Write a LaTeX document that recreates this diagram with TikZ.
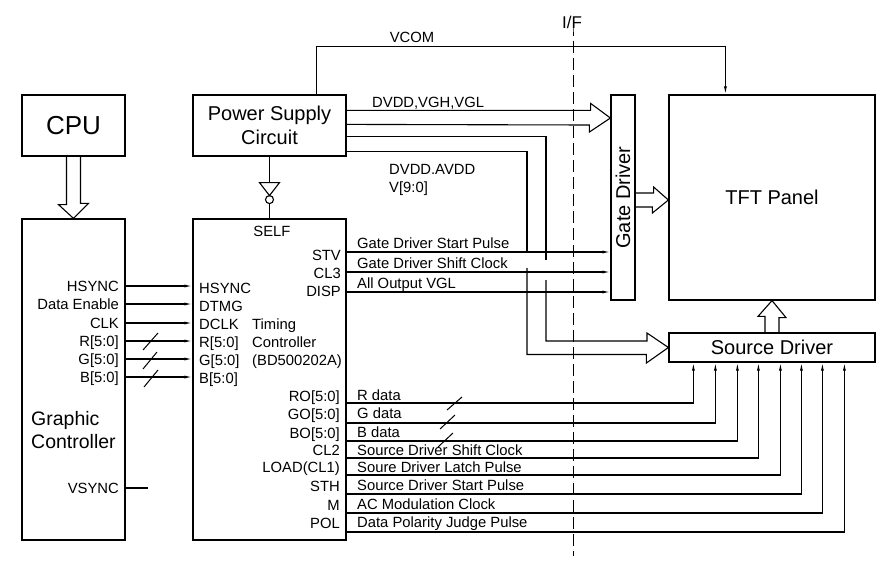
\documentclass[tikz,border=0pt]{standalone}
\usepackage{fontspec}
\setmainfont{Liberation Sans}
\usetikzlibrary{arrows.meta, positioning, calc}

\tikzset{
  blk/.style={draw, line width=1.2pt, inner sep=0pt},
  lbl/.style={inner sep=0pt, text height=10.6pt, text depth=0pt, font=\fontsize{14.8}{17}\selectfont},
  sig/.style={line width=1.1pt, -{Latex[length=8pt,width=3pt]}},
  wire/.style={line width=1.1pt},
  hollow/.style={line width=1.1pt, line join=miter},
  slash/.style={line width=1pt},
  ifline/.style={line width=0.8pt, dash pattern=on 12pt off 5pt},
}

\begin{document}
\begin{tikzpicture}[x=1pt, y=-1pt]
\useasboundingbox (0,0) rectangle (886,562);

% blocks
\node[blk, minimum width=103pt, minimum height=61pt, font=\fontsize{26}{30}\selectfont] (cpu) at (73.5,125.5) {CPU};
\node[blk, minimum width=103pt, minimum height=321pt] (gc) at (73.5,379.5) {};
\node[blk, minimum width=153pt, minimum height=61pt, align=center, font=\fontsize{20}{24}\selectfont] (psc) at (269.5,125.5) {Power Supply\\Circuit};
\node[blk, minimum width=153pt, minimum height=321pt] (tc) at (269.5,379.5) {};
\node[blk, minimum width=24pt, minimum height=205pt] (gd) at (623,197.5) {};
\node[rotate=90, inner sep=0pt, font=\fontsize{20}{24}\selectfont] (gdname) at (gd.center) {Gate Driver};
\node[blk, minimum width=206pt, minimum height=205pt, font=\fontsize{20}{24}\selectfont] (tft) at (772,197.5) {TFT Panel};
\node[blk, minimum width=206pt, minimum height=29pt, font=\fontsize{20}{24}\selectfont] (sd) at (772,347.5) {Source Driver};

% block names
\node[lbl, anchor=west, text height=14pt, font=\fontsize{19.5}{23}\selectfont] (gcname1) at (31,418) {Graphic};
\node[lbl, anchor=west, text height=14pt, font=\fontsize{19.5}{23}\selectfont] (gcname2) at (31,441) {Controller};
\node[lbl, anchor=west] (tcname1) at (252,324) {Timing};
\node[lbl, anchor=west] (tcname2) at (252,342) {Controller};
\node[lbl, anchor=west] (tcname3) at (252,360) {(BD500202A)};
\node[lbl] (self) at ($(tc.north)+(2.5,13)$) {SELF};

% I/F boundary
\node[lbl, text height=12pt, font=\fontsize{17}{20}\selectfont] (ifl) at (572,22) {I/F};
\draw[ifline] ($(ifl.south)+(1,4)$) -- (ifl.south -| 573,0) -- (573,556);

% CPU -> graphic controller
\draw[hollow] ($(cpu.south)+(-7,0)$) -- ++(0,48) -- ++(-8,0) -- (gc.north) -- ++(15,-15) -- ++(-8,0) -- ++(0,-48);

% graphic controller pins
\node[lbl, anchor=east] (ohsync) at (119,286) {HSYNC};
\node[lbl, anchor=east] (ode) at (119,304) {Data Enable};
\node[lbl, anchor=east] (oclk) at (119,323) {CLK};
\node[lbl, anchor=east] (or) at (119,341) {R[5:0]};
\node[lbl, anchor=east] (og) at (119,359) {G[5:0]};
\node[lbl, anchor=east] (ob) at (119,377) {B[5:0]};
\node[lbl, anchor=east] (ovsync) at (119,488) {VSYNC};
\draw[wire] (gc.east |- ovsync) -- ++(22,0);

% timing controller inputs
\node[lbl, anchor=west] (ihsync) at (199,288) {HSYNC};
\node[lbl, anchor=west] (idtmg) at (199,306) {DTMG};
\node[lbl, anchor=west] (idclk) at (199,324) {DCLK};
\node[lbl, anchor=west] (ir) at (199,342) {R[5:0]};
\node[lbl, anchor=west] (ig) at (199,360) {G[5:0]};
\node[lbl, anchor=west] (ib) at (199,378) {B[5:0]};
\draw[sig] (gc.east |- ohsync) -- (tc.west |- ohsync);
\draw[sig] (gc.east |- ode) -- (tc.west |- ode);
\draw[sig] (gc.east |- oclk) -- (tc.west |- oclk);
\draw[sig] (gc.east |- or) -- (tc.west |- or);
\draw[sig] (gc.east |- og) -- (tc.west |- og);
\draw[sig] (gc.east |- ob) -- (tc.west |- ob);
% bus marks
\draw[slash] (143,350) -- (158,333);
\draw[slash] (143,369) -- (157,352);
\draw[slash] (144,387) -- (158,370);

% power supply -> timing controller (inverter)
\draw[wire] (psc.south) -- ++(0,26) coordinate (invtop);
\draw[wire, line join=miter] ($(invtop)+(-10,0)$) -- ++(20,0) -- ++(-10,13) -- cycle;
\draw[wire] ($(invtop)+(0,17)$) circle (4);
\draw[wire] ($(invtop)+(0,21)$) -- (tc.north);

% VCOM
\coordinate (vcomin) at ($(tft.north west)+(57,0)$);
\draw[sig] ($(psc.north east)+(-30,0)$) -- ++(0,-48) -| (vcomin);
\node[lbl] (vcom) at (412,37) {VCOM};

% power -> gate driver
\draw[hollow] ($(psc.north east)+(0,16)$) -- ++(244,0) -- ++(0,-7) -- (gd.west |- 0,118) -- ++(-21,14) -- ++(0,-7) -- ($(psc.north east)+(0,30)$);
\node[lbl, anchor=west] (pgate) at (372,102) {DVDD,VGH,VGL};

% power -> source driver
\draw[hollow] ($(psc.north east)+(0,42)$) -| (546,260);
\draw[hollow] (546,280) |- (647,341) -- ++(0,-8) -- (sd.west) -- ++(-22,15.5) -- ++(0,-8.5) -| (527,268);
\draw[hollow] (527,252) |- ($(psc.north east)+(0,57)$);
\node[lbl, anchor=west] (psrc1) at (389,169) {DVDD.AVDD};
\node[lbl, anchor=west] (psrc2) at (389,187) {V[9:0]};

% gate driver -> panel, source driver -> panel
\draw[hollow] (gd.east |- 0,193) -- ++(18,0) -- ++(0,-6) -- (tft.west |- 0,200) -- ++(-16,13) -- ++(0,-6) -- (gd.east |- 0,207);
\draw[hollow] ($(sd.north)+(-7,0)$) -- ++(0,-16) -- ++(-7,0) -- (tft.south) -- ++(14,17) -- ++(-7,0) -- ++(0,16);

% gate driver signals
\node[lbl, anchor=east] (pstv) at (341,255) {STV};
\node[lbl, anchor=east] (pcl3) at (341,273) {CL3};
\node[lbl, anchor=east] (pdisp) at (341,291) {DISP};
\node[lbl, anchor=west] (nstv) at (357,243) {Gate Driver Start Pulse};
\node[lbl, anchor=west] (ncl3) at (357,263) {Gate Driver Shift Clock};
\node[lbl, anchor=west] (ndisp) at (357,283) {All Output VGL};
\draw[sig] (tc.east |- 0,252) -- (gd.west |- 0,252);
\draw[sig] (tc.east |- 0,272) -- (gd.west |- 0,272);
\draw[sig] (tc.east |- 0,292) -- (gd.west |- 0,292);

% source driver inputs
\coordinate (si1) at ($(sd.south west)+(25,0)$);
\coordinate (si2) at ($(sd.south west)+(47,0)$);
\coordinate (si3) at ($(sd.south west)+(69,0)$);
\coordinate (si4) at ($(sd.south west)+(90,0)$);
\coordinate (si5) at ($(sd.south west)+(112,0)$);
\coordinate (si6) at ($(sd.south west)+(133,0)$);
\coordinate (si7) at ($(sd.south west)+(154,0)$);
\coordinate (si8) at ($(sd.south west)+(176,0)$);

% source driver signals
\node[lbl, anchor=east] (pro) at (340,396) {RO[5:0]};
\node[lbl, anchor=east] (pgo) at (340,414) {GO[5:0]};
\node[lbl, anchor=east] (pbo) at (340,433) {BO[5:0]};
\node[lbl, anchor=east] (pcl2) at (340,450) {CL2};
\node[lbl, anchor=east] (pload) at (340,467) {LOAD(CL1)};
\node[lbl, anchor=east] (psth) at (340,486) {STH};
\node[lbl, anchor=east] (pm) at (340,505) {M};
\node[lbl, anchor=east] (ppol) at (340,523) {POL};
\node[lbl, anchor=west] (nro) at (357,395) {R data};
\node[lbl, anchor=west] (ngo) at (357,413) {G data};
\node[lbl, anchor=west] (nbo) at (357,432) {B data};
\node[lbl, anchor=west] (ncl2) at (357,450) {Source Driver Shift Clock};
\node[lbl, anchor=west] (nload) at (357,467) {Soure Driver Latch Pulse};
\node[lbl, anchor=west] (nsth) at (357,485) {Source Driver Start Pulse};
\node[lbl, anchor=west] (nm) at (357,504) {AC Modulation Clock};
\node[lbl, anchor=west] (npol) at (357,522) {Data Polarity Judge Pulse};
\draw[sig] (tc.east |- 0,403) -| (si1);
\draw[sig] (tc.east |- 0,423) -| (si2);
\draw[sig] (tc.east |- 0,441) -| (si3);
\draw[sig] (tc.east |- 0,458) -| (si4);
\draw[sig] (tc.east |- 0,475) -| (si5);
\draw[sig] (tc.east |- 0,494) -| (si6);
\draw[sig] (tc.east |- 0,513) -| (si7);
\draw[sig] (tc.east |- 0,532) -| (si8);
% bus marks
\draw[slash] (447,410) -- (462,397);
\draw[slash] (440,429) -- (455,415);
\draw[slash] (438,447) -- (453,433);
\end{tikzpicture}
\end{document}
